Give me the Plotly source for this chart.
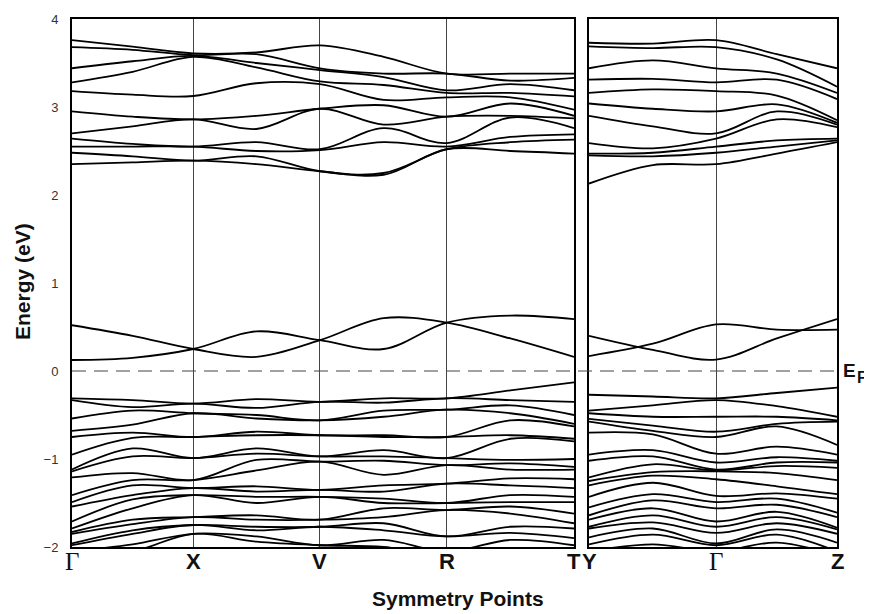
import plotly.graph_objects as go

# ---------------- data ----------------
# k-path positions (path length units) and labels
k_left = [0.0, 0.5, 1.0, 1.52, 2.045, 2.57, 3.09, 3.615, 4.14]
k_left_sym = [0.0, 1.0, 2.045, 3.09, 4.14]
labels_left = ["Γ", "X", "V", "R", "T"]
k_right = [0.0, 0.525, 1.045, 1.545, 2.04]
k_right_sym = [0.0, 1.045, 2.04]
labels_right = ["Y", "Γ", "Z"]

fermi_level = 0.0
y_ticks = [-2, -1, 0, 1, 2, 3, 4]

# conduction bands, left panel (energies at each k point, eV)
cL_G = [3.76, 3.68, 3.44, 3.28, 3.18, 2.95, 2.70, 2.64, 2.55, 2.48, 2.35]
cL_m1 = [3.685, 3.65, 3.52, 3.40, 3.14, 2.89, 2.78, 2.58, 2.55, 2.44, 2.37]
cL_X = [3.61, 3.59, 3.58, 3.57, 3.125, 2.86, 2.86, 2.55, 2.55, 2.39, 2.39]
cL_m2 = [3.62, 3.60, 3.50, 3.45, 3.27, 2.90, 2.75, 2.60, 2.50, 2.44, 2.35]
cL_V = [3.70, 3.44, 3.42, 3.29, 3.26, 2.98, 2.98, 2.52, 2.51, 2.27, 2.27]
cL_m3 = [3.57, 3.38, 3.34, 3.25, 3.08, 3.02, 2.80, 2.76, 2.60, 2.25, 2.23]
cL_R = [3.38, 3.38, 3.19, 3.16, 3.11, 2.89, 2.89, 2.59, 2.55, 2.52, 2.52]
cL_m4 = [3.38, 3.30, 3.26, 3.16, 3.11, 3.04, 2.90, 2.88, 2.66, 2.60, 2.50]
cL_T = [3.38, 3.33, 3.19, 3.12, 2.97, 2.90, 2.87, 2.76, 2.69, 2.63, 2.47]

# conduction bands, right panel
cR_Y = [3.73, 3.69, 3.44, 3.31, 3.16, 3.04, 2.90, 2.59, 2.47, 2.45, 2.13]
cR_m1 = [3.72, 3.67, 3.53, 3.32, 3.20, 2.98, 2.78, 2.53, 2.48, 2.44, 2.34]
cR_G = [3.76, 3.68, 3.44, 3.28, 3.18, 2.95, 2.70, 2.64, 2.55, 2.48, 2.35]
cR_m2 = [3.60, 3.54, 3.38, 3.31, 3.13, 3.03, 2.95, 2.86, 2.62, 2.55, 2.47]
cR_Z = [3.44, 3.23, 3.16, 3.09, 2.85, 2.82, 2.80, 2.77, 2.64, 2.62, 2.60]

# mid-gap bands
mgL_A = [0.52, 0.40, 0.25, 0.16, 0.35, 0.60, 0.55, 0.37, 0.16]
mgL_B = [0.125, 0.15, 0.25, 0.45, 0.35, 0.25, 0.55, 0.63, 0.59]
mgR_A = [0.40, 0.24, 0.13, 0.37, 0.59]
mgR_B = [0.17, 0.31, 0.53, 0.47, 0.47]

# valence bands, left panel
vL_G = [-0.31, -0.33, -0.54, -0.68, -0.75, -0.95, -1.12, -1.14, -1.21, -1.41,
        -1.49, -1.54, -1.71, -1.79, -1.83, -1.85, -1.96, -1.98, -2.05, -2.10]
vL_m1 = [-0.33, -0.41, -0.45, -0.61, -0.70, -0.76, -0.88, -0.97, -1.16, -1.24,
         -1.30, -1.41, -1.46, -1.56, -1.69, -1.74, -1.81, -1.85, -1.97, -2.05]
vL_X = [-0.37, -0.37, -0.48, -0.48, -0.75, -0.75, -0.99, -0.99, -1.24, -1.24,
        -1.33, -1.33, -1.41, -1.41, -1.66, -1.66, -1.75, -1.75, -1.85, -1.85]
vL_m2 = [-0.32, -0.42, -0.50, -0.54, -0.69, -0.73, -0.88, -0.94, -1.01, -1.13,
         -1.31, -1.37, -1.43, -1.50, -1.64, -1.69, -1.77, -1.81, -1.88, -1.94]
vL_V = [-0.35, -0.35, -0.56, -0.56, -0.73, -0.73, -0.97, -0.97, -1.03, -1.03,
        -1.35, -1.35, -1.43, -1.43, -1.69, -1.69, -1.77, -1.77, -1.98, -1.98]
vL_m3 = [-0.31, -0.36, -0.45, -0.52, -0.73, -0.75, -0.90, -0.97, -1.02, -1.18,
         -1.30, -1.37, -1.45, -1.50, -1.56, -1.66, -1.73, -1.81, -1.92, -2.00]
vL_R = [-0.31, -0.31, -0.44, -0.44, -0.75, -0.75, -0.99, -0.99, -1.07, -1.07,
        -1.28, -1.28, -1.50, -1.50, -1.58, -1.58, -1.88, -1.88, -2.05, -2.10]
vL_m4 = [-0.22, -0.33, -0.39, -0.48, -0.56, -0.73, -0.77, -1.01, -1.05, -1.12,
         -1.22, -1.30, -1.41, -1.49, -1.54, -1.62, -1.77, -1.84, -1.92, -2.05]
vL_T = [-0.13, -0.35, -0.50, -0.60, -0.63, -0.77, -0.80, -1.00, -1.09, -1.12,
        -1.23, -1.33, -1.43, -1.49, -1.62, -1.73, -1.79, -1.90, -1.98, -2.05]

# valence bands, right panel
vR_Y = [-0.27, -0.45, -0.48, -0.545, -0.575, -0.70, -0.95, -1.02, -1.21, -1.25,
        -1.30, -1.43, -1.55, -1.64, -1.69, -1.77, -1.79, -1.89, -1.97, -2.05]
vR_m1 = [-0.29, -0.39, -0.52, -0.62, -0.68, -0.72, -0.90, -0.97, -1.06, -1.15,
         -1.19, -1.27, -1.40, -1.47, -1.56, -1.64, -1.72, -1.79, -1.86, -1.97]
vR_G = [-0.31, -0.33, -0.52, -0.69, -0.75, -0.94, -1.04, -1.12, -1.13, -1.14,
        -1.23, -1.42, -1.49, -1.56, -1.71, -1.77, -1.84, -1.96, -1.98, -2.05]
vR_m2 = [-0.25, -0.40, -0.52, -0.60, -0.63, -0.86, -0.98, -1.04, -1.08, -1.16,
         -1.31, -1.39, -1.45, -1.52, -1.60, -1.66, -1.73, -1.80, -1.86, -1.95]
vR_Z = [-0.19, -0.52, -0.56, -0.575, -0.84, -0.95, -1.02, -1.04, -1.10, -1.24,
        -1.40, -1.45, -1.61, -1.66, -1.78, -1.80, -1.85, -1.95, -2.05, -2.10]

# ---------------- build band tables ----------------
left_cols_c = [cL_G, cL_m1, cL_X, cL_m2, cL_V, cL_m3, cL_R, cL_m4, cL_T]
left_cols_v = [vL_G, vL_m1, vL_X, vL_m2, vL_V, vL_m3, vL_R, vL_m4, vL_T]
right_cols_c = [cR_Y, cR_m1, cR_G, cR_m2, cR_Z]
right_cols_v = [vR_Y, vR_m1, vR_G, vR_m2, vR_Z]


def bands_from_cols(cols):
    return [list(b) for b in zip(*cols)]


left_bands = bands_from_cols(left_cols_c) + [mgL_A, mgL_B] + bands_from_cols(left_cols_v)
right_bands = bands_from_cols(right_cols_c) + [mgR_A, mgR_B] + bands_from_cols(right_cols_v)

# ---------------- figure ----------------
# the page body has an 8px margin, so the figure is placed at (8, 8)
OFF = 8
W, H = 864, 606
SANS = "Liberation Sans, Arial, sans-serif"
SERIF = "Liberation Serif, Times New Roman, serif"


def px(x):
    """screen x pixel -> paper fraction"""
    return (x - OFF) / W


def py(y):
    """screen y pixel -> paper fraction"""
    return 1 - (y - OFF) / H


line_style = dict(color="black", width=1.8, shape="spline", smoothing=1.0)

fig = go.Figure()
for b in left_bands:
    fig.add_trace(go.Scatter(x=k_left, y=b, mode="lines", line=line_style,
                             xaxis="x", yaxis="y", showlegend=False, hoverinfo="skip"))
for b in right_bands:
    fig.add_trace(go.Scatter(x=k_right, y=b, mode="lines", line=line_style,
                             xaxis="x2", yaxis="y2", showlegend=False, hoverinfo="skip"))

xL = [px(72), px(574)]
xR = [px(589), px(837)]
yD = [py(547), py(19)]

common_x = dict(showline=True, mirror=True, linewidth=2, linecolor="black",
                showgrid=True, gridcolor="#444444", gridwidth=1.2,
                zeroline=False, showticklabels=False, ticks="", automargin=False)
fig.update_layout(
    template="none",
    width=W, height=H,
    margin=dict(l=0, r=0, t=0, b=0, pad=0, autoexpand=False),
    paper_bgcolor="white", plot_bgcolor="white",
    xaxis=dict(domain=xL, range=[k_left_sym[0], k_left_sym[-1]],
               tickvals=k_left_sym, **common_x),
    xaxis2=dict(domain=xR, range=[k_right_sym[0], k_right_sym[-1]],
                tickvals=k_right_sym, anchor="y2", **common_x),
    yaxis=dict(domain=yD, range=[y_ticks[0], y_ticks[-1]], tickvals=y_ticks,
               showline=True, mirror=True, linewidth=2, linecolor="black",
               showgrid=False, zeroline=False, ticks="", automargin=False,
               ticklabelstandoff=9,
               tickfont=dict(family=SANS, size=13, color="#333333")),
    yaxis2=dict(domain=yD, range=[y_ticks[0], y_ticks[-1]], anchor="x2",
                matches="y", showline=True, mirror=True, linewidth=2,
                linecolor="black", showgrid=False, zeroline=False,
                showticklabels=False, ticks="", automargin=False),
)

# Fermi level dashed line across both panels
fig.add_shape(type="line", xref="paper", yref="y", x0=xL[0], x1=xR[1],
              y0=fermi_level, y1=fermi_level,
              line=dict(color="#444444", width=1, dash="14px,8px"), layer="above")

# symmetry point labels
label_y = py(561)
for kv, lab in zip(k_left_sym, labels_left):
    if lab == "Γ":
        font = dict(family=SERIF, size=25, color="#111111")
    else:
        font = dict(family=SANS, size=22, color="#111111", weight="bold")
    fig.add_annotation(x=kv, y=label_y, xref="x", yref="paper", text=lab,
                       showarrow=False, font=font, xanchor="center", yanchor="middle")
for kv, lab in zip(k_right_sym, labels_right):
    if lab == "Γ":
        font = dict(family=SERIF, size=25, color="#111111")
    else:
        font = dict(family=SANS, size=22, color="#111111", weight="bold")
    fig.add_annotation(x=kv, y=label_y, xref="x2", yref="paper", text=lab,
                       showarrow=False, font=font, xanchor="center", yanchor="middle")

# axis titles
fig.add_annotation(x=px(458), y=py(598), xref="paper", yref="paper",
                   text="Symmetry Points", showarrow=False,
                   font=dict(family=SANS, size=21, color="#111111", weight="bold"),
                   xanchor="center", yanchor="middle")
fig.add_annotation(x=px(22), y=py(282), xref="paper", yref="paper",
                   text="Energy (eV)", showarrow=False, textangle=-90,
                   font=dict(family=SANS, size=21, color="#111111", weight="bold"),
                   xanchor="center", yanchor="middle")

# E_F label
fig.add_annotation(x=px(849), y=fermi_level, xref="paper", yref="y", text="E",
                   showarrow=False, yshift=1,
                   font=dict(family=SANS, size=19, color="#111111", weight="bold"),
                   xanchor="center", yanchor="middle")
fig.add_annotation(x=px(862), y=fermi_level, xref="paper", yref="y", text="F",
                   showarrow=False, yshift=-6,
                   font=dict(family=SANS, size=16, color="#111111", weight="bold"),
                   xanchor="center", yanchor="middle")

fig.write_html("out.html")
